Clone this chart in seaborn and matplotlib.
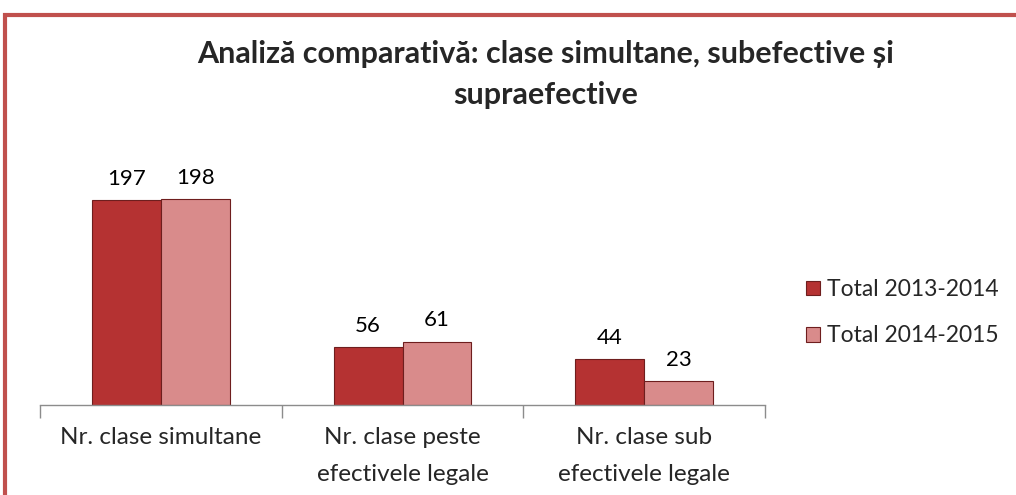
import matplotlib
matplotlib.use("Agg")
import matplotlib.pyplot as plt
import seaborn as sns
import pandas as pd
from matplotlib.patches import Rectangle
from matplotlib.ticker import FixedLocator

categories = ["Nr. clase simultane", "Nr. clase peste\nefectivele legale", "Nr. clase sub\nefectivele legale"]
series_names = ["Total 2013-2014", "Total 2014-2015"]
values_2013_2014 = [197, 56, 44]
values_2014_2015 = [198, 61, 23]
title = "Analiză comparativă: clase simultane, subefective și\nsupraefective"

df = pd.DataFrame({
    "cat": categories * 2,
    "serie": [series_names[0]] * 3 + [series_names[1]] * 3,
    "val": values_2013_2014 + values_2014_2015,
})

sns.set_theme(style="white")
plt.rcParams['font.family'] = ['Lato', 'DejaVu Sans']

fig = plt.figure(figsize=(10.16, 4.95), dpi=100)
fig.patch.set_facecolor("white")

# red frame
fig.patches.append(Rectangle((5 / 1016, -0.1), 1.2, (495 - 15) / 495 + 0.1,
                             transform=fig.transFigure, fill=False,
                             edgecolor="#C0504D", linewidth=3, zorder=0))

ax = fig.add_axes([40 / 1016, 90 / 495, 725 / 1016, 260 / 495])
colors = ["#B53232", "#D98B8B"]
sns.barplot(data=df, x="cat", y="val", hue="serie", palette=colors, width=0.57,
            ax=ax, edgecolor="#6E1E1E", linewidth=0.8, saturation=1, legend=True)

for cont in ax.containers:
    ax.bar_label(cont, padding=8, fontsize=16, color="black")

ax.set_ylim(0, 250)
ax.set_xlim(-0.5, 2.5)
ax.set_xlabel("")
ax.set_ylabel("")
ax.set_yticks([])
for s in ["left", "right", "top"]:
    ax.spines[s].set_visible(False)
ax.spines["bottom"].set_color("#8C8C8C")
ax.spines["bottom"].set_linewidth(1)
ax.set_xticks(range(len(categories)))
ax.set_xticklabels(categories, linespacing=1.95)
ax.xaxis.set_minor_locator(FixedLocator([-0.5, 0.5, 1.5, 2.5]))
ax.tick_params(axis="x", which="major", length=0, pad=16, labelsize=17.5)
ax.tick_params(axis="x", which="minor", length=9, width=1, color="#8C8C8C", bottom=True, direction="out")

leg = ax.legend(loc="center left", bbox_to_anchor=(1.028, 0.355), frameon=False,
                fontsize=16.5, handlelength=0.6, handleheight=0.6, handletextpad=0.3,
                labelspacing=1.1)

fig.text(0.537, 0.849, title, ha="center", va="center", fontsize=22, fontweight="bold",
         linespacing=1.55)

fig.savefig("out.png", dpi=100)
